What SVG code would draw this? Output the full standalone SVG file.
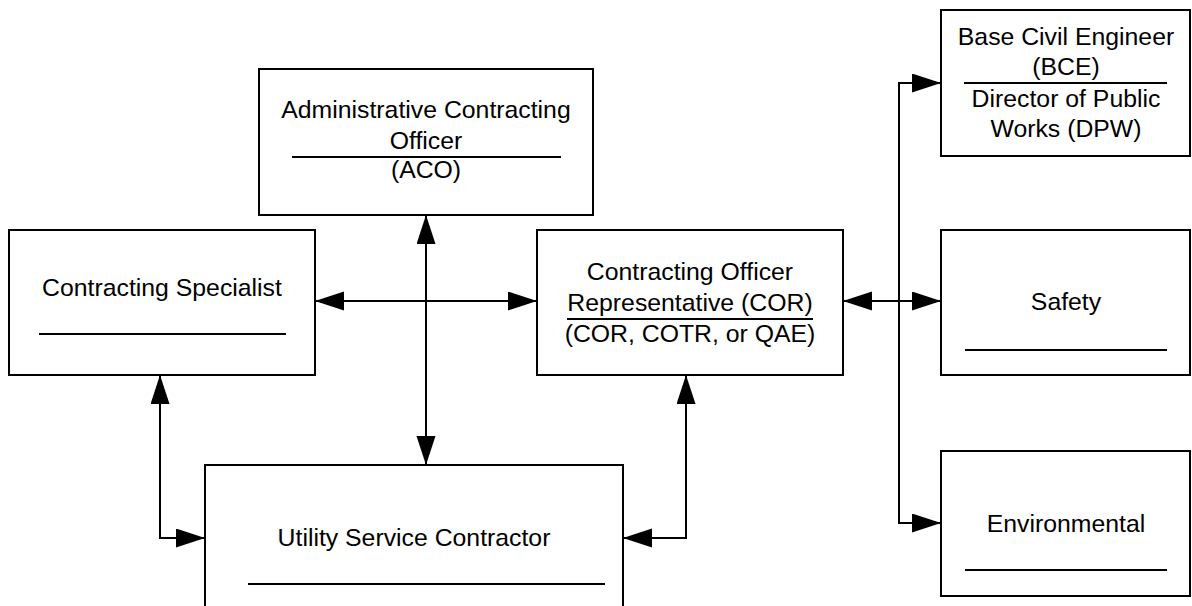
<svg xmlns="http://www.w3.org/2000/svg" width="1192" height="606" viewBox="0 0 1192 606">
  <style>
    .box { fill: #ffffff; stroke: #000000; stroke-width: 2; }
    .rule { stroke: #000000; stroke-width: 2; }
    .label { font-family: "Liberation Sans", Arial, sans-serif; font-size: 24.8px; fill: #000000; text-anchor: middle; }
    .link { fill: none; stroke: #000000; stroke-width: 2; marker-start: url(#head); marker-end: url(#head); }
  </style>
  <defs>
    <marker id="head" markerUnits="userSpaceOnUse" markerWidth="30" markerHeight="20" refX="29" refY="9.5" orient="auto-start-reverse">
      <path d="M0,0 L29,9.5 L0,19 z" fill="#000000"/>
    </marker>
  </defs>
  <rect width="1192" height="606" fill="#ffffff"/>

  <g id="aco">
    <rect class="box" x="259" y="69" width="334" height="146"/>
    <text class="label" x="426" y="118">Administrative Contracting</text>
    <text class="label" x="426" y="149">Officer</text>
    <line class="rule" x1="292" y1="157" x2="561" y2="157"/>
    <text class="label" x="426" y="178">(ACO)</text>
  </g>

  <g id="contracting-specialist">
    <rect class="box" x="9" y="230" width="306" height="145"/>
    <text class="label" x="162" y="296">Contracting Specialist</text>
    <line class="rule" x1="39" y1="334" x2="286" y2="334"/>
  </g>

  <g id="cor">
    <rect class="box" x="537" y="230" width="306" height="145"/>
    <text class="label" x="690" y="280">Contracting Officer</text>
    <text class="label" x="690" y="311">Representative (COR)</text>
    <line class="rule" x1="567" y1="319" x2="813" y2="319"/>
    <text class="label" x="690" y="342">(COR, COTR, or QAE)</text>
  </g>

  <g id="bce">
    <rect class="box" x="941" y="10" width="249" height="146"/>
    <text class="label" x="1066" y="45">Base Civil Engineer</text>
    <text class="label" x="1066" y="75">(BCE)</text>
    <line class="rule" x1="964" y1="83" x2="1167" y2="83"/>
    <text class="label" x="1066" y="107">Director of Public</text>
    <text class="label" x="1066" y="137">Works (DPW)</text>
  </g>

  <g id="safety">
    <rect class="box" x="941" y="230" width="249" height="145"/>
    <text class="label" x="1066" y="310">Safety</text>
    <line class="rule" x1="965" y1="350" x2="1167" y2="350"/>
  </g>

  <g id="environmental">
    <rect class="box" x="941" y="451" width="249" height="145"/>
    <text class="label" x="1066" y="532">Environmental</text>
    <line class="rule" x1="965" y1="570" x2="1167" y2="570"/>
  </g>

  <g id="utility-contractor">
    <rect class="box" x="205" y="465" width="418" height="160"/>
    <text class="label" x="414" y="546">Utility Service Contractor</text>
    <line class="rule" x1="248" y1="584" x2="605" y2="584"/>
  </g>

  <g id="connectors">
    <path class="link" d="M426,215 V465"/>
    <path class="link" d="M315,301 H537"/>
    <path class="link" d="M160,375 V538 H205"/>
    <path class="link" d="M686,375 V538 H623"/>
    <path class="link" d="M843,301 H941"/>
    <path class="link" d="M941,83 H899 V523 H941"/>
  </g>
</svg>
